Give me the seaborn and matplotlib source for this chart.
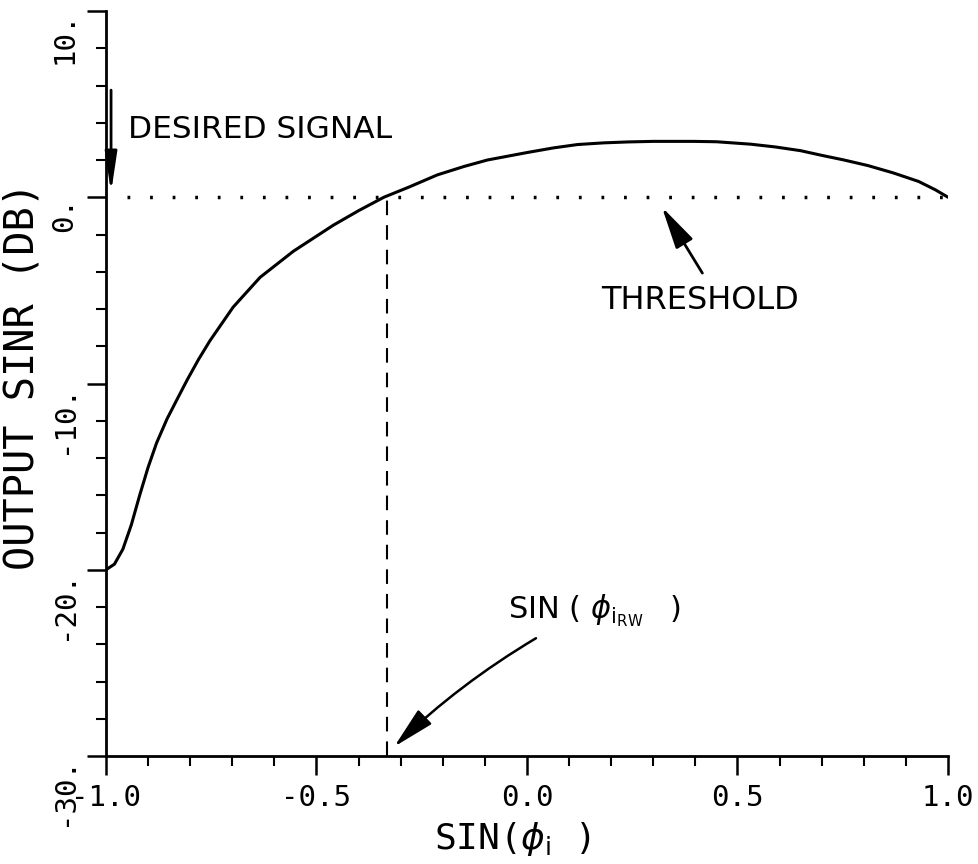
import numpy as np
import pandas as pd
import matplotlib
matplotlib.use("Agg")
import matplotlib.pyplot as plt
import seaborn as sns

# ---- data ----
sin_phi = [-1.0, -0.98, -0.96, -0.94, -0.92, -0.90, -0.88, -0.855, -0.83,
           -0.807, -0.78, -0.753, -0.698, -0.634, -0.555, -0.46, -0.40, -0.34,
           -0.28, -0.213, -0.15, -0.094, 0.0, 0.063, 0.12, 0.182, 0.24, 0.30,
           0.35, 0.396, 0.45, 0.531, 0.59, 0.65, 0.70, 0.753, 0.81, 0.871,
           0.93, 0.97, 1.0]
sinr_db = [-20.0, -19.7, -18.9, -17.6, -16.0, -14.5, -13.2, -11.9, -10.8,
           -9.8, -8.7, -7.7, -5.9, -4.3, -2.9, -1.5, -0.72, 0.0,
           0.55, 1.2, 1.65, 2.0, 2.4, 2.65, 2.83, 2.92, 2.97, 3.0,
           3.0, 3.0, 2.98, 2.85, 2.7, 2.5, 2.25, 2.0, 1.7, 1.3,
           0.85, 0.4, 0.0]
threshold_db = 0.0
threshold_x = [-0.95, 1.0]
sin_rw = -0.333

xticks = [-1.0, -0.5, 0.0, 0.5, 1.0]
xtick_labels = ["-1.0", "-0.5", "0.0", "0.5", "1.0"]
yticks = [-30, -20, -10, 0, 10]
ytick_labels = ["-30.", "-20.", "-10.", "0.", "10."]

df = pd.DataFrame({"x": sin_phi, "y": sinr_db})

sns.set_theme(style="ticks")
plt.rcParams["font.family"] = ["DejaVu Sans", "DejaVu Sans Mono"]
plt.rcParams["axes.unicode_minus"] = False

fig = plt.figure(figsize=(9.79, 8.64), dpi=100)
ax = fig.add_axes([106 / 979, 1 - 756 / 864, (948 - 106) / 979, (756 - 11) / 864])

sns.lineplot(data=df, x="x", y="y", ax=ax, color="black", linewidth=2.2,
             sort=False, estimator=None)

# threshold dotted line
ax.plot(threshold_x, [threshold_db, threshold_db], color="black", linewidth=2.5,
        linestyle=(0, (0.8, 5.7)), dash_capstyle="butt")
# dashed vertical line at crossing
ax.plot([sin_rw, sin_rw], [-30, threshold_db], color="black", linewidth=1.5,
        linestyle=(0, (7, 4.8)))

ax.set_xlim(-1, 1)
ax.set_ylim(-30, 10)
sns.despine(ax=ax)
for s in ("left", "bottom"):
    ax.spines[s].set_linewidth(2.0)
    ax.spines[s].set_color("black")

ax.set_xticks(xticks)
ax.set_xticklabels(xtick_labels, family="DejaVu Sans Mono", fontsize=21)
ax.set_xticks(np.arange(-1.0, 1.01, 0.1), minor=True)
ax.set_yticks(yticks)
ax.set_yticklabels(ytick_labels, family="DejaVu Sans Mono", fontsize=21,
                   rotation=90, va="top")
ax.set_yticks(np.arange(-30, 10.1, 2), minor=True)
ax.tick_params(axis="both", which="major", direction="out", length=14, width=1.8,
               color="black", labelcolor="black")
ax.tick_params(axis="both", which="minor", direction="out", length=7, width=1.5,
               color="black")
ax.tick_params(axis="x", which="major", pad=6)
ax.tick_params(axis="y", which="major", pad=6)

ax.set_xlabel(r"SIN($\phi_{\rm i}$ )", family="DejaVu Sans Mono", fontsize=26,
              color="black", va="top")
ax.xaxis.set_label_coords(0.483, -0.086)
ax.set_ylabel("OUTPUT SINR (DB)", family="DejaVu Sans Mono", fontsize=29,
              color="black")
ax.yaxis.set_label_coords(-0.076, 0.51)

# annotations
ax.text(-0.948, 3.2, "DESIRED SIGNAL", fontsize=22.5, va="baseline", ha="left",
        color="black")
ax.annotate("", xy=(-0.988, 0.1), xytext=(-0.988, 5.9),
            arrowprops=dict(arrowstyle="-|>,head_length=1.2,head_width=0.18",
                            mutation_scale=20, color="black", lw=2))

ax.text(0.175, -6.0, "THRESHOLD", fontsize=23, va="baseline", ha="left",
        color="black")
ax.annotate("", xy=(0.317, -0.4), xytext=(0.42, -4.2),
            arrowprops=dict(arrowstyle="-|>,head_length=1.3,head_width=0.3",
                            mutation_scale=20, color="black", lw=2))

ax.text(-0.044, -22.6, r"SIN ( $\phi_{{\rm i}_{\rm RW}}\;\;$ )", fontsize=22,
        va="baseline", ha="left", color="black")
ax.annotate("", xy=(-0.32, -29.6), xytext=(0.027, -23.6),
            arrowprops=dict(arrowstyle="-|>,head_length=1.3,head_width=0.3",
                            mutation_scale=20, color="black", lw=1.8,
                            connectionstyle="arc3,rad=0.06"))

fig.savefig("out.png", dpi=100, facecolor="white")
